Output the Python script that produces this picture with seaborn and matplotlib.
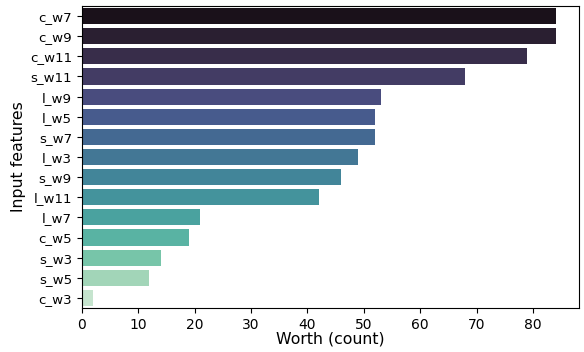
import matplotlib
matplotlib.use("Agg")
import matplotlib.pyplot as plt
import seaborn as sns
import pandas as pd

features = ["c_w7", "c_w9", "c_w11", "s_w11", "l_w9", "l_w5", "s_w7", "l_w3",
            "s_w9", "l_w11", "l_w7", "c_w5", "s_w3", "s_w5", "c_w3"]
counts = [84, 84, 79, 68, 53, 52, 52, 49, 46, 42, 21, 19, 14, 12, 2]

df = pd.DataFrame({"feature": features, "count": counts})

fig, ax = plt.subplots(figsize=(5.84, 3.52), dpi=100)
sns.barplot(data=df, x="count", y="feature", hue="feature",
            palette="mako", legend=False, ax=ax, orient="h")
ax.set_xlabel("Worth (count)", fontsize=11.3, labelpad=0)
ax.set_ylabel("Input features", fontsize=11.3, labelpad=3)
ax.tick_params(axis="y", labelsize=9.6)
fig.subplots_adjust(left=0.14, right=0.992, top=0.983, bottom=0.125)
fig.savefig("out.png", dpi=100)
